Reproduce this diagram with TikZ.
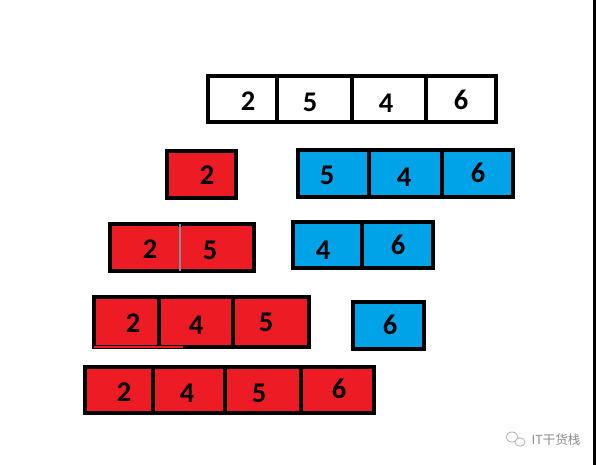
\documentclass[tikz,border=0pt]{standalone}
\usepackage{fontspec}
\setmainfont{Carlito}
\newfontfamily\cjk{Noto Sans CJK SC}
\definecolor{pred}{HTML}{ED1C24}
\definecolor{pblue}{HTML}{00A2E8}
\newcommand\mkcell[6]{\node[#2,minimum width={#5pt-#3pt},minimum height={#6pt-#4pt}] (#1) at (#3,#4) {};}
\begin{document}
\begin{tikzpicture}[x=1pt,y=-1pt,
  cellbox/.style={draw=black,line width=3.6pt,inner sep=0pt,outer sep=0pt,anchor=north west},
  redcell/.style={cellbox,fill=pred},
  bluecell/.style={cellbox,fill=pblue},
  whitecell/.style={cellbox,fill=white},
  digit/.style={font=\fontsize{28.5}{28.5}\selectfont\bfseries,inner sep=0pt,text=black},
  wm/.style={text=black!45,font=\cjk\fontsize{12.5}{12.5}\selectfont,inner sep=0pt}]
\useasboundingbox[fill=white] (0,0) rectangle (596,465);
% row 0
\mkcell{w1}{whitecell}{208}{76}{277}{122}
\mkcell{w2}{whitecell}{277}{76}{352}{122}
\mkcell{w3}{whitecell}{352}{76}{426}{122}
\mkcell{w4}{whitecell}{426}{76}{496}{122}
\node[digit] (dw1) at (248,101) {2};
\node[digit] (dw2) at (310,102) {5};
\node[digit] (dw3) at (386,103) {4};
\node[digit] (dw4) at (461,100) {6};
% row 1
\mkcell{r11}{redcell}{167}{151}{236}{198}
\node[digit] (dr11) at (207,175) {2};
\mkcell{b11}{bluecell}{298}{150}{369}{197}
\mkcell{b12}{bluecell}{369}{150}{442}{197}
\mkcell{b13}{bluecell}{442}{150}{513}{197}
\node[digit] (db11) at (327,175) {5};
\node[digit] (db12) at (404,177) {4};
\node[digit] (db13) at (478,173) {6};
% row 2
\mkcell{r21}{redcell}{110}{224}{180}{271}
\mkcell{r22}{redcell}{180}{224}{254}{271}
\draw[pred,line width=3.4pt] (r22.north west) ++(0,2.5) -- ++(0,42);
\draw[black!45,line width=1.2pt] (r22.north west) -- (r22.south west);
\node[digit] (dr21) at (150,249) {2};
\node[digit] (dr22) at (210,250) {5};
\mkcell{b21}{bluecell}{293}{222}{362}{268}
\mkcell{b22}{bluecell}{362}{222}{433}{268}
\node[digit] (db21) at (323,250) {4};
\node[digit] (db22) at (398,245) {6};
% row 3
\mkcell{r31}{redcell}{94}{297}{159}{347}
\mkcell{r32}{redcell}{159}{297}{233}{347}
\mkcell{r33}{redcell}{233}{297}{309}{347}
\draw[pred,line width=2.4pt] (r31.south west) -- ++(89,0);
\node[digit] (dr31) at (133,323) {2};
\node[digit] (dr32) at (196,325) {4};
\node[digit] (dr33) at (266,322) {5};
\mkcell{b31}{bluecell}{353}{302}{424}{349}
\node[digit] (db31) at (390,325) {6};
% row 4
\mkcell{r41}{redcell}{85}{367}{153}{413}
\mkcell{r42}{redcell}{153}{367}{225}{413}
\mkcell{r43}{redcell}{225}{367}{301}{413}
\mkcell{r44}{redcell}{301}{367}{374}{413}
\node[digit] (dr41) at (124,392) {2};
\node[digit] (dr42) at (187,393) {4};
\node[digit] (dr43) at (259,393) {5};
\node[digit] (dr44) at (339,389) {6};
% watermark
\draw[black!30,line width=0.8pt] (512,437) ellipse (6 and 5);
\draw[black!30,line width=0.8pt,fill=white] (520,442) ellipse (5 and 4.2);
\node[wm] (wmtext) at (556,440) {IT干货栈};
% right edge
\draw[black,line width=3pt] (594,0) -- (594,465);
\end{tikzpicture}
\end{document}
